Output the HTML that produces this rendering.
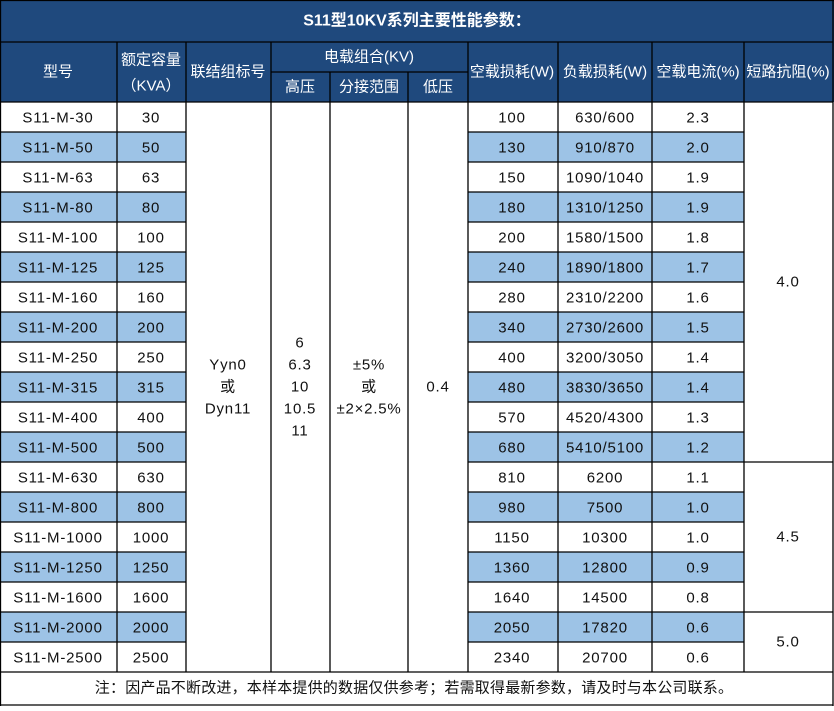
<!DOCTYPE html>
<html><head><meta charset="utf-8"><style>
body{margin:0;background:#fff}
svg text{font-family:"Liberation Sans","Noto Sans CJK SC",sans-serif;font-size:15px;letter-spacing:0.8px;fill:#111;text-anchor:middle;dominant-baseline:central}
.h text{fill:#fff;font-size:15px;letter-spacing:0}
</style></head><body>
<svg width="834" height="706" xmlns="http://www.w3.org/2000/svg">
<rect x="0" y="0" width="834" height="102" fill="#1f497d"/>
<g id="rows"></g>
<g class="h">
<text x="417" y="21" style="font-weight:bold;font-size:16px">S11型10KV系列主要性能参数：</text>
<text x="58" y="72">型号</text>
<text x="151" y="60">额定容量</text>
<text x="151" y="86">（KVA）</text>
<text x="228" y="72">联结组标号</text>
<text x="369" y="57">电载组合(KV)</text>
<text x="300" y="87">高压</text>
<text x="369" y="87">分接范围</text>
<text x="438" y="87">低压</text>
<text x="512" y="72">空载损耗(W)</text>
<text x="605" y="72">负载损耗(W)</text>
<text x="698" y="72">空载电流(%)</text>
<text x="788" y="72">短路抗阻(%)</text>
</g>
<g id="data"></g>
<text x="228" y="365">Yyn0</text><text x="228" y="387">或</text><text x="228" y="409">Dyn11</text>
<text x="300" y="343">6</text><text x="300" y="365">6.3</text><text x="300" y="387">10</text><text x="300" y="409">10.5</text><text x="300" y="431">11</text>
<text x="369" y="365">±5%</text><text x="369" y="387">或</text><text x="369" y="409">±2×2.5%</text>
<text x="438" y="387">0.4</text>
<text x="788" y="282">4.0</text><text x="788" y="537">4.5</text><text x="788" y="642">5.0</text>
<text x="414" y="688" style="font-size:15px;letter-spacing:0.2px">注：因产品不断改进，本样本提供的数据仅供参考；若需取得最新参数，请及时与本公司联系。</text>
<g id="lines" stroke="#000" stroke-width="1.3" fill="none"></g>
</svg>
<script>
const d=[["S11-M-30","30","100","630/600","2.3"],["S11-M-50","50","130","910/870","2.0"],["S11-M-63","63","150","1090/1040","1.9"],["S11-M-80","80","180","1310/1250","1.9"],["S11-M-100","100","200","1580/1500","1.8"],["S11-M-125","125","240","1890/1800","1.7"],["S11-M-160","160","280","2310/2200","1.6"],["S11-M-200","200","340","2730/2600","1.5"],["S11-M-250","250","400","3200/3050","1.4"],["S11-M-315","315","480","3830/3650","1.4"],["S11-M-400","400","570","4520/4300","1.3"],["S11-M-500","500","680","5410/5100","1.2"],["S11-M-630","630","810","6200","1.1"],["S11-M-800","800","980","7500","1.0"],["S11-M-1000","1000","1150","10300","1.0"],["S11-M-1250","1250","1360","12800","0.9"],["S11-M-1600","1600","1640","14500","0.8"],["S11-M-2000","2000","2050","17820","0.6"],["S11-M-2500","2500","2340","20700","0.6"]];
const NS="http://www.w3.org/2000/svg";
function el(g,t,a,txt){const e=document.createElementNS(NS,t);for(const k in a)e.setAttribute(k,a[k]);if(txt!=null)e.textContent=txt;document.getElementById(g).appendChild(e);}
const X=[0,117,186,271,330,408,468,558,652,744,833];
const cx=[58,151,512,605,698];
d.forEach((r,i)=>{const y=102+i*30;
 if(i%2){el("rows","rect",{x:0,y:y,width:186,height:30,fill:"#9dc3e6"});el("rows","rect",{x:468,y:y,width:276,height:30,fill:"#9dc3e6"});}
 r.forEach((t,j)=>el("data","text",{x:cx[j],y:y+16},t));
 if(i>0){el("lines","line",{x1:0,y1:y,x2:186,y2:y});el("lines","line",{x1:468,y1:y,x2:744,y2:y});}
});
[[0,833,42],[0,833,102],[271,468,72],[744,833,462],[744,833,612],[0,833,672],[0,833,705]].forEach(a=>el("lines","line",{x1:a[0],y1:a[2],x2:a[1],y2:a[2]}));
el("lines","line",{x1:0.5,y1:0,x2:0.5,y2:706});el("lines","line",{x1:833,y1:0,x2:833,y2:706});el("lines","line",{x1:0,y1:0.5,x2:834,y2:0.5});
X.slice(1,10).forEach(x=>{el("lines","line",{x1:x,y1:(x==330||x==408)?72:42,x2:x,y2:672});});
</script>
</body></html>
